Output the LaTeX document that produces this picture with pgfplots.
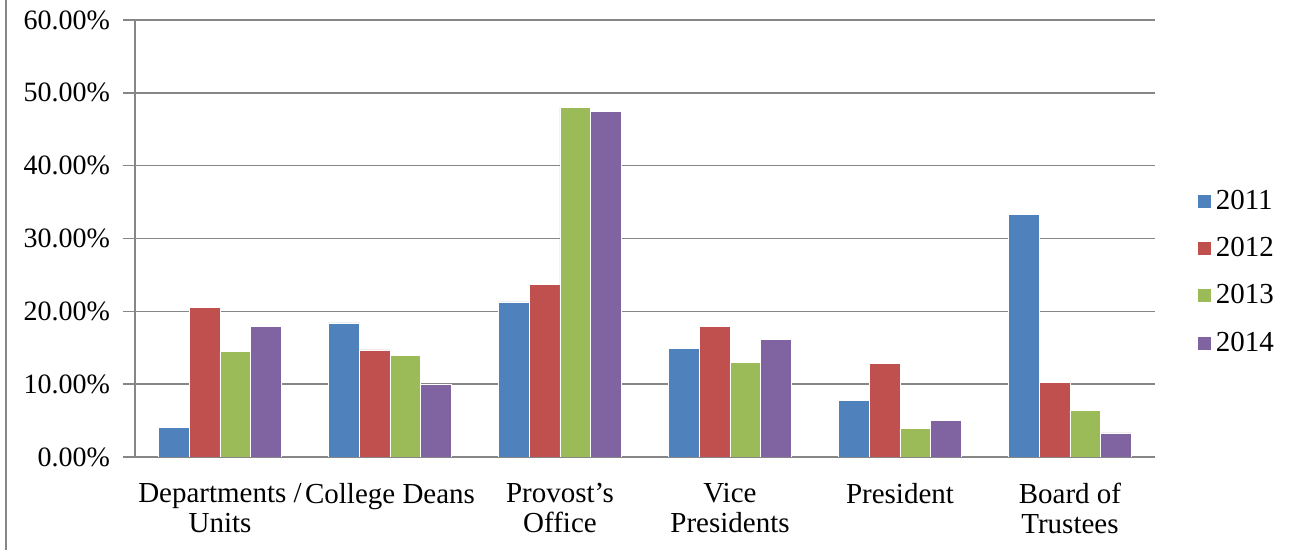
\documentclass[border=0pt]{standalone}
\usepackage{pgfplots}
\pgfplotsset{compat=1.18}
\usepackage{fontspec}
\setmainfont{Liberation Serif}
\definecolor{c11}{HTML}{4F81BD}
\definecolor{c12}{HTML}{C0504D}
\definecolor{c13}{HTML}{9BBB59}
\definecolor{c14}{HTML}{8064A2}
\definecolor{gridc}{HTML}{868686}
\begin{document}
\begin{tikzpicture}
\path[use as bounding box] (-67.5pt,-46.5pt) rectangle (583.5pt,228.5pt);
\draw[gridc, line width=1pt] (-64.5pt,-46.5pt) -- (-64.5pt,228.5pt);
\begin{axis}[
  at={(0,0)}, anchor=south west,
  scale only axis, width=510pt, height=218.5pt,
  font=\fontsize{14}{15}\selectfont,
  /pgf/number format/assume math mode=true,
  xmin=-0.5, xmax=5.5, ymin=0, ymax=60,
  axis x line=bottom, axis y line=left,
  axis line style={gridc, line width=0.8pt, -},
  ybar=0pt, bar width=15.4pt,
  xtick={0,1,2,3,4,5},
  xticklabels={{Departments /\\Units},{College Deans},{Provost’s\\Office},{Vice\\Presidents},{President},{Board of\\Trustees}},
  xticklabel style={align=center, anchor=north, yshift=-3.5pt, font=\fontsize{14.5}{15}\selectfont},
  major x tick style={draw=none},
  extra x ticks={-0.5,0.5,1.5,2.5,3.5,4.5,5.5},
  extra x tick labels={},
  extra x tick style={tick style={gridc, line width=0.8pt}, major tick length=6pt, tick align=outside, xmajorgrids=false},
  ytick={0,10,...,60},
  yticklabel={\pgfmathprintnumber[fixed,fixed zerofill,precision=2]{\tick}\%},
  yticklabel style={xshift=-3pt},
  ymajorgrids, grid style={gridc, line width=0.8pt},
  major y tick style={gridc, line width=0.8pt},
  tick align=outside, major tick length=6pt,
  legend style={at={(1.041,0.423)}, anchor=west, draw=none, fill=none, inner sep=0pt,
    row sep=8.5pt, font=\fontsize{14.5}{15}\selectfont},
  legend cell align=left,
  legend image code/.code={\fill[#1] (0pt,-3.5pt) rectangle (7pt,3.5pt);},
]
\addplot[fill=c11, draw=white, line width=0.3pt] coordinates {(0,4.1) (1,18.4) (2,21.3) (3,14.9) (4,7.8) (5,33.3)};
\addplot[fill=c12, draw=white, line width=0.3pt] coordinates {(0,20.55) (1,14.7) (2,23.7) (3,17.9) (4,12.8) (5,10.2)};
\addplot[fill=c13, draw=white, line width=0.3pt] coordinates {(0,14.5) (1,14.0) (2,47.95) (3,12.95) (4,3.9) (5,6.4)};
\addplot[fill=c14, draw=white, line width=0.3pt] coordinates {(0,17.9) (1,10.0) (2,47.5) (3,16.15) (4,5.0) (5,3.3)};
\legend{2011,2012,2013,2014}
\end{axis}
\end{tikzpicture}
\end{document}
